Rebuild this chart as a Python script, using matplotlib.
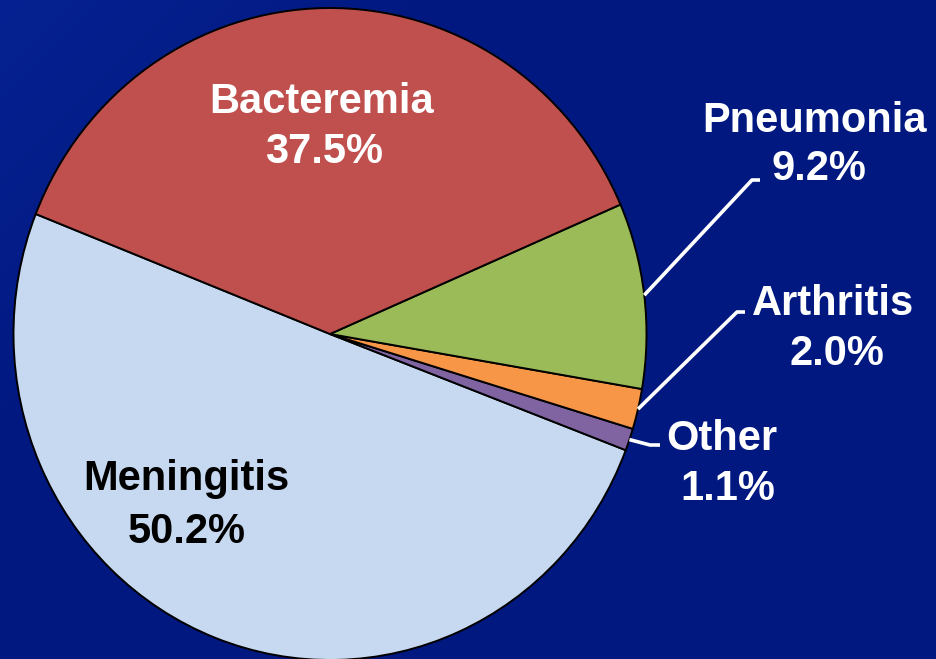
import numpy as np
import matplotlib
matplotlib.use("Agg")
import matplotlib.pyplot as plt

# ---- data ----
categories = ["Meningitis", "Other", "Arthritis", "Pneumonia", "Bacteremia"]
values = [50.2, 1.1, 2.0, 9.2, 37.5]
pct_labels = ["50.2%", "1.1%", "2.0%", "9.2%", "37.5%"]
colors = ["#C6D9F0", "#8064A2", "#F79646", "#9BBB59", "#C0504D"]

W, H = 936, 659
DPI = 100
BG = "#011880"

fig = plt.figure(figsize=(W / DPI, H / DPI), dpi=DPI)
fig.patch.set_facecolor(BG)

# subtle background gradient (lighter toward top-left)
bg_ax = fig.add_axes([0, 0, 1, 1])
bg_ax.set_xlim(0, W)
bg_ax.set_ylim(H, 0)
bg_ax.axis("off")
yy, xx = np.mgrid[0:H:4, 0:W:4]
g = np.clip(1 - (xx / 450 + yy / 450), 0, 1)
base = np.array([1, 24, 128]) / 255.0
light = np.array([6, 34, 146]) / 255.0
img = base[None, None, :] * (1 - g[..., None]) + light[None, None, :] * g[..., None]
bg_ax.imshow(img, extent=[0, W, H, 0], aspect="auto", zorder=0)

# pie axes (slightly elliptical, as in the reference)
cx, cy = 330.0, 334.0
rx, ry = 316.5, 326.0
ax = fig.add_axes([(cx - rx) / W, 1 - (cy + ry) / H, 2 * rx / W, 2 * ry / H])
wedges, _ = ax.pie(values, colors=colors, startangle=158.4, counterclock=True,
                   radius=1.0,
                   wedgeprops=dict(edgecolor="black", linewidth=1.4))
ax.set_aspect("auto")
ax.set_xlim(-1, 1)
ax.set_ylim(-1, 1)
ax.axis("off")

# overlay for labels in pixel coords
ov = fig.add_axes([0, 0, 1, 1])
ov.set_xlim(0, W)
ov.set_ylim(H, 0)
ov.axis("off")

font = dict(family=["Liberation Sans", "DejaVu Sans"], fontweight="bold", fontsize=30)

def txt(x, y, s, color="white"):
    ov.text(x, y, s, ha="center", va="baseline", color=color, **font)

# inside labels
txt(322, 113, categories[4], "white")
txt(324, 163, pct_labels[4], "white")
txt(186, 490, categories[0], "black")
txt(187, 543, pct_labels[0], "black")

# outside labels
txt(815, 132, categories[3])
txt(819, 180, pct_labels[3])
txt(833, 315, categories[2])
txt(837, 365, pct_labels[2])
txt(722, 450, categories[1])
txt(728, 500, pct_labels[1])

# leader lines from wedge mid-angles
def edge_point(w):
    th = np.deg2rad((w.theta1 + w.theta2) / 2)
    return cx + rx * np.cos(th), cy - ry * np.sin(th)

leaders = {3: [(752, 180), (760, 180)],
           2: [(737, 312), (745, 312)],
           1: [(650, 445), (660, 445)]}
for i, pts in leaders.items():
    x0, y0 = edge_point(wedges[i])
    xs = [x0] + [p[0] for p in pts]
    ys = [y0] + [p[1] for p in pts]
    ov.plot(xs, ys, color="white", lw=2.6, solid_capstyle="butt")

fig.savefig("out.png", dpi=DPI, facecolor=BG)
